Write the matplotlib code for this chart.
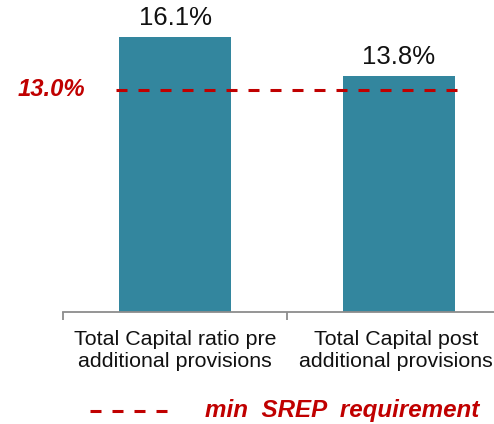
import matplotlib
matplotlib.use('Agg')
import matplotlib.pyplot as plt
import matplotlib.transforms as mtransforms
from matplotlib.lines import Line2D

# data
categories = ['Total Capital ratio pre\nadditional provisions',
              'Total Capital post\nadditional provisions']
values = [16.1, 13.8]
value_labels = ['16.1%', '13.8%']
srep_min = 13.0
srep_label = '13.0%'
legend_text = 'min  SREP  requirement'

bar_color = '#33869E'
red = '#C00000'
plt.rcParams['font.family'] = ['Liberation Sans', 'DejaVu Sans']

fig = plt.figure(figsize=(4.94, 4.24), dpi=100)
ax = fig.add_axes([63 / 494, 112 / 424, 431 / 494, 312 / 424])

x = list(range(len(values)))
ax.bar(x, values, width=0.5, color=bar_color, zorder=2)

# value labels above the bars
for xi, v, lab in zip(x, values, value_labels):
    ax.annotate(lab, (xi, v), xytext=(0, 5), textcoords='offset points',
                ha='center', va='bottom', fontsize=18.5, color='#111111')

# min SREP line
ax.plot([-0.263, 1.259], [srep_min, srep_min], color=red, lw=2.2,
        dashes=(3.6, 3.6), zorder=3)
ax.text(-0.55, srep_min, srep_label, ha='center', va='center', color=red,
        fontsize=17.2, fontweight='bold', fontstyle='italic', clip_on=False)

ax.set_xlim(-0.5, -0.5 + 431 / 224)
ax.set_ylim(0, 312 / 17.08)

for s in ['top', 'right', 'left']:
    ax.spines[s].set_visible(False)
ax.spines['bottom'].set_color('#8c8c8c')
ax.spines['bottom'].set_linewidth(1.3)
ax.set_yticks([])
ax.set_xticks(x)
ax.set_xticklabels(categories, fontsize=15.4, color='#111111', linespacing=1.2)
ax.tick_params(axis='x', which='major', length=0, pad=13)
ax.set_xticks([-0.5, 0.5], minor=True)
ax.tick_params(axis='x', which='minor', length=6, width=1.3, color='#8c8c8c')

# keep the right label inside the figure
lab = ax.get_xticklabels()[1]
lab.set_transform(lab.get_transform() +
                  mtransforms.ScaledTranslation(-3 / 100, 0, fig.dpi_scale_trans))

# legend below the chart
fig.add_artist(Line2D([90 / 494, 172 / 494], [13 / 424, 13 / 424], color=red,
                      lw=2.2, dashes=(3.6, 3.6), transform=fig.transFigure))
fig.text(205 / 494, 14 / 424, legend_text, ha='left', va='center', color=red,
         fontsize=17.4, fontweight='bold', fontstyle='italic')

fig.savefig('out.png', dpi=100)
